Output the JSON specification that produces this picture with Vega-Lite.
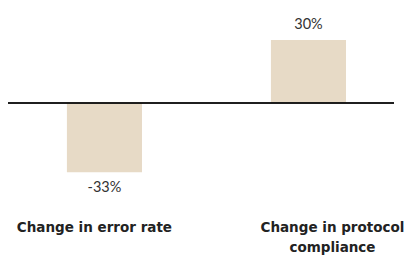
{
  "$schema": "https://vega.github.io/schema/vega-lite/v6.json",
  "width": 386,
  "height": 208,
  "autosize": "none",
  "padding": {"left": 8, "top": 0, "right": 18, "bottom": 49},
  "background": "white",
  "config": {"view": {"stroke": null}, "font": "Lato"},
  "data": {"values": [
    {"category": "Change in error rate", "v": -0.33, "label": "-33%"},
    {"category": "Change in protocol compliance", "v": 0.30, "label": "30%"}
  ]},
  "layer": [
    {
      "mark": {"type": "bar", "color": "#e7dac6"},
      "encoding": {
        "x": {
          "field": "category", "type": "nominal", "sort": null,
          "scale": {"paddingInner": 0.632, "paddingOuter": 0.262, "align": 0.551},
          "axis": {
            "title": null, "domain": false, "ticks": false, "labelAngle": 0,
            "labelBaseline": "top", "labelPadding": 12, "labelFontSize": 13.5,
            "labelFontWeight": "bold", "labelColor": "#222222", "labelLineHeight": 20,
            "labelFont": "DejaVu Sans", "labelLimit": 300,
            "labelExpr": "datum.value == 'Change in protocol compliance' ? ['Change in protocol', 'compliance'] : datum.value",
            "labelOffset": {"condition": {"test": "datum.value == 'Change in protocol compliance'", "value": 24}, "value": -10}
          }
        },
        "y": {"field": "v", "type": "quantitative", "scale": {"domain": [-0.5, 0.49], "nice": false, "zero": true}, "axis": null}
      }
    },
    {
      "mark": {"type": "rule", "color": "#111111", "strokeWidth": 1.6},
      "encoding": {"y": {"datum": 0, "type": "quantitative"}}
    },
    {
      "transform": [{"filter": "datum.v > 0"}],
      "mark": {"type": "text", "baseline": "bottom", "dy": -8, "fontSize": 14.5, "fontWeight": 400, "color": "#333333", "font": "Lato"},
      "encoding": {
        "x": {"field": "category", "type": "nominal", "sort": null},
        "y": {"field": "v", "type": "quantitative"},
        "text": {"field": "label", "type": "nominal"}
      }
    },
    {
      "transform": [{"filter": "datum.v < 0"}],
      "mark": {"type": "text", "baseline": "top", "dy": 9, "fontSize": 14.5, "fontWeight": 400, "color": "#333333", "font": "Lato"},
      "encoding": {
        "x": {"field": "category", "type": "nominal", "sort": null},
        "y": {"field": "v", "type": "quantitative"},
        "text": {"field": "label", "type": "nominal"}
      }
    }
  ]
}
